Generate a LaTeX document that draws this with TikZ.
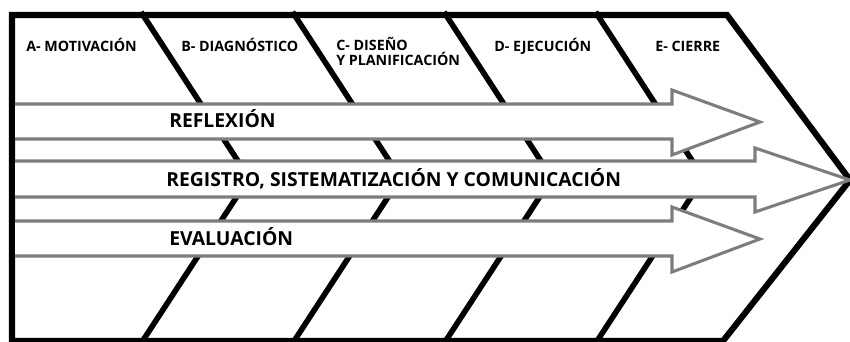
\documentclass[tikz,border=0pt]{standalone}
\usepackage{fontspec}
\setmainfont{Open Sans}

\begin{document}
\begin{tikzpicture}[x=0.75pt,y=0.75pt,yscale=-1,xscale=1,
  divisor/.style={line width=4.2pt},
  contorno/.style={line width=4.6pt,line join=miter},
  flecha/.style={draw={rgb, 255:red, 125; green, 125; blue, 125},fill=white,line width=2.3pt,line join=miter},
  etapa/.style={anchor=base west,inner sep=0.75pt,font=\bfseries\fontsize{10.7}{12}\selectfont},
  eje/.style={anchor=base west,inner sep=0.75pt,font=\bfseries\fontsize{14.5}{16}\selectfont}]
\useasboundingbox (0,0) rectangle (850,342);

%Straight Lines: dividers between stages
\foreach \x in {143,294.5,446,597.5}{
  \draw [divisor] (\x-2,12) -- (\x+106,178) -- (\x-3,345);
}

%Shape: outer chevron
\draw [contorno] (12,15) -- (727,15) -- (850,180) -- (723,341) -- (12,341) -- cycle;

%Shape: arrows
\draw [flecha] (15,104) -- (672,104) -- (672,90) -- (760,122) -- (672,155) -- (672,139) -- (15,139);
\draw [flecha] (15,161) -- (755,161) -- (755,148) -- (850,180) -- (755,212) -- (755,197) -- (15,197);
\draw [flecha] (15,221) -- (672,221) -- (672,207) -- (760,239) -- (672,272) -- (672,256) -- (15,256);

% Text Node
\node (motivacion) at (25,52) [etapa] {A- MOTIVACIÓN};
% Text Node
\node (diagnostico) at (180,52) [etapa] {B- DIAGNÓSTICO};
% Text Node
\node (diseno) at (335,51) [etapa] {C- DISEÑO};
% Text Node
\node (planificacion) at (335,66) [etapa] {Y PLANIFICACIÓN};
% Text Node
\node (ejecucion) at (493,52) [etapa] {D- EJECUCIÓN};
% Text Node
\node (cierre) at (654,52) [etapa] {E- CIERRE};
% Text Node
\node (reflexion) at (168,128) [eje] {REFLEXIÓN};
% Text Node
\node (registro) at (165,187) [eje] {REGISTRO, SISTEMATIZACIÓN Y COMUNICACIÓN};
% Text Node
\node (evaluacion) at (168,246) [eje] {EVALUACIÓN};

\end{tikzpicture}
\end{document}
